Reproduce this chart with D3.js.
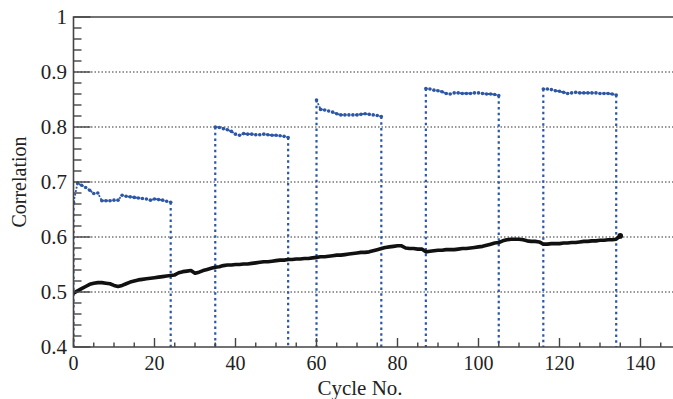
<!DOCTYPE html>
<html>
<head>
<meta charset="utf-8">
<script src="https://cdn.jsdelivr.net/npm/d3@7"></script>
<style>
  body { margin: 0; background: #fff; }
  text { font-family: "Liberation Serif", "DejaVu Serif", serif; fill: #222; }
</style>
</head>
<body>
<script>
// black series: one value per cycle, cycles 0..135
const blackValues = [
  0.498, 0.502, 0.506, 0.510, 0.514, 0.516, 0.517, 0.517, 0.516, 0.515,
  0.512, 0.510, 0.512, 0.515, 0.518, 0.520, 0.522, 0.523, 0.524, 0.525,
  0.526, 0.527, 0.528, 0.529, 0.530, 0.531, 0.535, 0.537, 0.538, 0.539,
  0.534, 0.536, 0.539, 0.541, 0.543, 0.545, 0.546, 0.548, 0.549, 0.549,
  0.550, 0.550, 0.551, 0.551, 0.552, 0.553, 0.554, 0.555, 0.555, 0.556,
  0.557, 0.558, 0.558, 0.559, 0.559, 0.560, 0.560, 0.561, 0.561, 0.562,
  0.563, 0.564, 0.564, 0.565, 0.566, 0.567, 0.567, 0.568, 0.569, 0.570,
  0.571, 0.572, 0.572, 0.573, 0.575, 0.577, 0.579, 0.581, 0.582, 0.583,
  0.584, 0.584, 0.580, 0.579, 0.579, 0.578, 0.578, 0.573, 0.574, 0.575,
  0.576, 0.576, 0.577, 0.577, 0.577, 0.578, 0.579, 0.579, 0.580, 0.581,
  0.582, 0.583, 0.585, 0.587, 0.589, 0.590, 0.593, 0.595, 0.596, 0.596,
  0.596, 0.595, 0.593, 0.592, 0.592, 0.591, 0.587, 0.587, 0.588, 0.588,
  0.588, 0.589, 0.589, 0.590, 0.590, 0.591, 0.592, 0.592, 0.593, 0.593,
  0.594, 0.594, 0.595, 0.595, 0.596, 0.602
];

// blue series: segments, first cycle of each + one value per cycle
const blueStarts = [0, 35, 60, 87, 116];
const blueSeg1 = [0.663, 0.698, 0.694, 0.690, 0.685, 0.679, 0.680, 0.666, 0.666, 0.666,
  0.667, 0.667, 0.676, 0.674, 0.673, 0.672, 0.671, 0.670, 0.669, 0.667,
  0.669, 0.668, 0.667, 0.665, 0.663];
const blueSeg2 = [0.800, 0.799, 0.797, 0.795, 0.792, 0.787, 0.785, 0.788, 0.787, 0.787,
  0.786, 0.786, 0.787, 0.786, 0.785, 0.785, 0.784, 0.783, 0.781];
const blueSeg3 = [0.849, 0.832, 0.831, 0.829, 0.827, 0.824, 0.822, 0.822, 0.822, 0.822,
  0.822, 0.823, 0.824, 0.823, 0.822, 0.821, 0.819];
const blueSeg4 = [0.870, 0.869, 0.867, 0.866, 0.864, 0.861, 0.860, 0.862, 0.862, 0.861,
  0.861, 0.861, 0.862, 0.862, 0.861, 0.860, 0.860, 0.859, 0.857];
const blueSeg5 = [0.869, 0.869, 0.868, 0.866, 0.865, 0.863, 0.861, 0.862, 0.863, 0.862,
  0.862, 0.862, 0.862, 0.862, 0.861, 0.861, 0.861, 0.860, 0.858];
const blueSegs = [blueSeg1, blueSeg2, blueSeg3, blueSeg4, blueSeg5];

const xTicks = [0, 20, 40, 60, 80, 100, 120, 140];
const yTicks = [0.4, 0.5, 0.6, 0.7, 0.8, 0.9, 1];
const yLabels = ['0.4', '0.5', '0.6', '0.7', '0.8', '0.9', '1'];
const gridVals = [0.5, 0.6, 0.7, 0.8, 0.9];

const w = 673, h = 399;
const mLeft = 73.5, mTop = 17, mBottom = 347;
const blue = '#2d57a5';

const x = d3.scaleLinear().domain([0, 150]).range([mLeft, mLeft + 150 * 4.05]);
const y = d3.scaleLinear().domain([0.4, 1]).range([mBottom, mTop]);

const svg = d3.select('body').append('svg')
  .attr('width', w).attr('height', h);

svg.append('clipPath').attr('id', 'plot')
  .append('rect')
  .attr('x', mLeft).attr('y', mTop - 2)
  .attr('width', w - mLeft).attr('height', mBottom - mTop + 2);

// grid
svg.selectAll('.grid').data(gridVals).enter().append('line')
  .attr('class', 'grid')
  .attr('x1', mLeft).attr('x2', w)
  .attr('y1', d => y(d)).attr('y2', d => y(d))
  .attr('stroke', '#777').attr('stroke-width', 1.3)
  .attr('stroke-dasharray', '1.5,2');

const plot = svg.append('g').attr('clip-path', 'url(#plot)');

// blue drop lines
blueSegs.forEach((seg, k) => {
  const s = blueStarts[k];
  const e = s + seg.length - 1;
  [[s, seg[0]], [e, seg[seg.length - 1]]].forEach(p => {
    plot.append('line')
      .attr('x1', x(p[0])).attr('x2', x(p[0]))
      .attr('y1', y(p[1])).attr('y2', y(0.4))
      .attr('stroke', blue).attr('stroke-width', 2.2)
      .attr('stroke-dasharray', '2.5,3.2');
  });
});

// blue segments
const line = d3.line().x(d => x(d[0])).y(d => y(d[1]));
blueSegs.forEach((seg, k) => {
  const pts = seg.map((v, i) => [blueStarts[k] + i, v]);
  plot.append('path').datum(pts)
    .attr('d', line)
    .attr('fill', 'none').attr('stroke', blue).attr('stroke-width', 1.8)
    .attr('stroke-dasharray', '2,1.5');
  plot.selectAll(null).data(pts).enter().append('circle')
    .attr('cx', d => x(d[0])).attr('cy', d => y(d[1]))
    .attr('r', 1.8).attr('fill', blue);
});

// black series
const blackPts = blackValues.map((v, i) => [i, v]);
plot.append('path').datum(blackPts)
  .attr('d', line)
  .attr('fill', 'none').attr('stroke', '#111').attr('stroke-width', 3.6)
  .attr('stroke-linejoin', 'round').attr('stroke-linecap', 'round');
plot.append('circle')
  .attr('cx', x(135)).attr('cy', y(blackValues[135]))
  .attr('r', 2.8).attr('fill', '#111');

// axes
const axisCol = '#444';
const yMinor = d3.range(0.42, 1, 0.02).filter(v => Math.abs(v * 10 - Math.round(v * 10)) > 0.01);
const xMinor = d3.range(5, 150, 5).filter(v => v % 20 !== 0);

svg.selectAll('.ymin').data(yMinor).enter().append('line')
  .attr('x1', mLeft).attr('x2', mLeft + 8)
  .attr('y1', d => y(d)).attr('y2', d => y(d))
  .attr('stroke', axisCol).attr('stroke-width', 1.4);
svg.selectAll('.ymaj').data(yTicks).enter().append('line')
  .attr('x1', mLeft).attr('x2', mLeft + 17)
  .attr('y1', d => y(d)).attr('y2', d => y(d))
  .attr('stroke', axisCol).attr('stroke-width', 1.4);
svg.selectAll('.xmin').data(xMinor).enter().append('line')
  .attr('x1', d => x(d)).attr('x2', d => x(d))
  .attr('y1', mBottom).attr('y2', mBottom - 4.5)
  .attr('stroke', axisCol).attr('stroke-width', 1.4);
svg.selectAll('.xmaj').data(xTicks).enter().append('line')
  .attr('x1', d => x(d)).attr('x2', d => x(d))
  .attr('y1', mBottom).attr('y2', mBottom - 9)
  .attr('stroke', axisCol).attr('stroke-width', 1.4);

svg.append('path')
  .attr('d', `M${w},${mTop}H${mLeft}V${mBottom}H${w}`)
  .attr('fill', 'none').attr('stroke', axisCol).attr('stroke-width', 1.6);

// labels
svg.selectAll('.ylab').data(yTicks).enter().append('text')
  .attr('x', 67).attr('y', d => y(d) + 7)
  .attr('text-anchor', 'end').style('font-size', '21px')
  .text((d, i) => yLabels[i]);
svg.selectAll('.xlab').data(xTicks).enter().append('text')
  .attr('x', d => x(d)).attr('y', 370)
  .attr('text-anchor', 'middle').style('font-size', '20px')
  .text(d => d);

svg.append('text')
  .attr('x', 360).attr('y', 395)
  .attr('text-anchor', 'middle').style('font-size', '21px')
  .text('Cycle No.');
svg.append('text')
  .attr('transform', 'translate(26,182) rotate(-90)')
  .attr('text-anchor', 'middle').style('font-size', '20px')
  .text('Correlation');
</script>
</body>
</html>
